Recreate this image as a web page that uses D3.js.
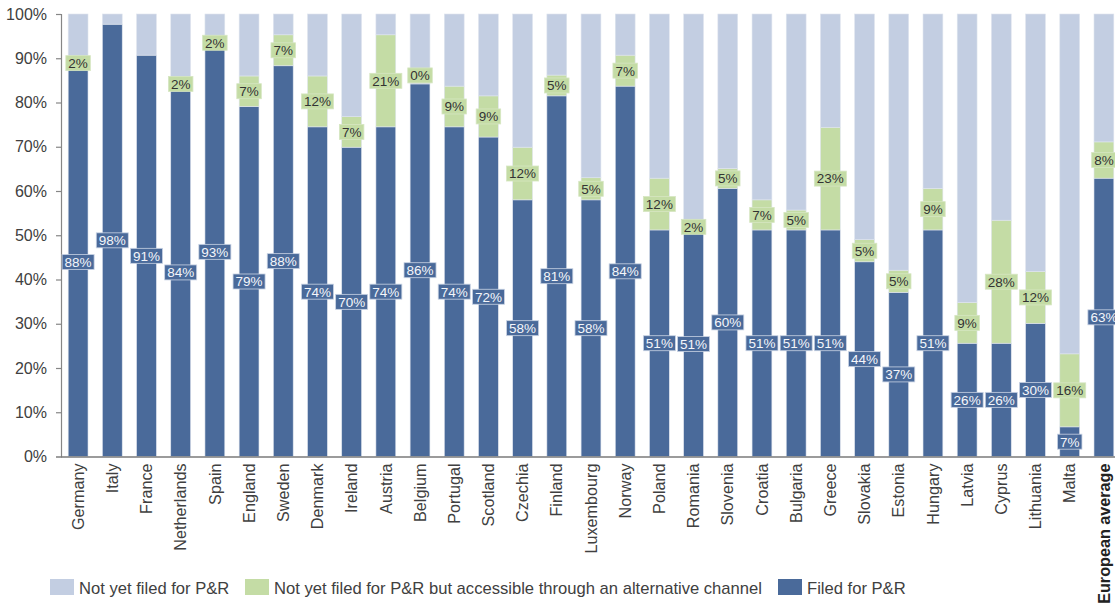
<!DOCTYPE html>
<html>
<head>
<meta charset="utf-8">
<script src="https://cdn.jsdelivr.net/npm/d3@7/dist/d3.min.js"></script>
<style>
  html, body { margin: 0; padding: 0; background: #fff; overflow: hidden; }
  svg { display: block; font-family: "Liberation Sans", Arial, sans-serif; }
</style>
</head>
<body>
<svg id="chart" width="1115" height="605"></svg>
<script>
const categories = ["Germany","Italy","France","Netherlands","Spain","England","Sweden","Denmark","Ireland","Austria","Belgium","Portugal","Scotland","Czechia","Finland","Luxembourg","Norway","Poland","Romania","Slovenia","Croatia","Bulgaria","Greece","Slovakia","Estonia","Hungary","Latvia","Cyprus","Lithuania","Malta","European average"];
// Filed for P&R (bar heights, %)
const filed = [87.9,97.7,90.7,83.2,92.5,79.1,88.3,74.5,69.9,74.5,84.2,74.5,72.2,58.0,81.5,58.0,83.7,51.2,50.8,60.6,51.2,51.2,51.2,44.0,37.1,51.2,25.6,25.6,30.1,6.7,62.9];
// Not yet filed but accessible through an alternative channel (%)
const alternative = [2,0,0,2,2,6.9,7,11.5,6.9,20.8,0,9.2,9.3,11.9,4.7,5,7,11.7,2.2,4.5,6.8,4.5,23.2,5,5,9.4,9.2,27.8,11.7,16.5,8.2];
// Data label texts
const filedLabels = [88,98,91,84,93,79,88,74,70,74,86,74,72,58,81,58,84,51,51,60,51,51,51,44,37,51,26,26,30,7,63];
const altLabels = [2,null,null,2,2,7,7,12,7,21,0,9,9,12,5,5,7,12,2,5,7,5,23,5,5,9,9,28,12,16,8];
const yTicks = [0,10,20,30,40,50,60,70,80,90,100];
const seriesNames = ["Not yet filed for P&R","Not yet filed for P&R but accessible through an alternative channel","Filed for P&R"];
const colors = { notyet: "#C3CEE2", alt: "#C4DCA5", filed: "#4A6A9A" };

const svg = d3.select("#chart");
const mLeft = 61, mRight = 1121, mTop = 14, mBottom = 456.5;

const data = categories.map((c, i) => ({
  cat: c,
  filed: filed[i],
  alt: alternative[i],
  notyet: 100 - filed[i] - alternative[i],
  fl: filedLabels[i],
  al: altLabels[i]
}));

const x = d3.scaleBand().domain(categories).range([mLeft, mRight]).paddingInner(0.42).paddingOuter(0.21);
const y = d3.scaleLinear().domain([0, 100]).range([mBottom, mTop]);

const stack = d3.stack().keys(["filed", "alt", "notyet"]);
const stacked = stack(data);

const g = svg.append("g");
g.selectAll("g.series").data(stacked).join("g")
  .attr("class", "series")
  .attr("fill", d => colors[d.key])
  .selectAll("rect").data(d => d).join("rect")
  .attr("x", d => x(d.data.cat))
  .attr("width", x.bandwidth())
  .attr("y", d => y(d[1]))
  .attr("height", d => Math.max(0, y(d[0]) - y(d[1])))
  .attr("stroke", "#dfe5ee")
  .attr("stroke-width", 0.6);

// Y axis
const yAxis = d3.axisLeft(y).tickValues(yTicks).tickFormat(d => d + "%").tickSize(5).tickPadding(9);
const ya = svg.append("g").attr("transform", `translate(${mLeft},0)`).call(yAxis);
ya.select(".domain").attr("stroke", "#868686").attr("stroke-width", 1.2);
ya.selectAll(".tick line").attr("stroke", "#868686").attr("stroke-width", 1.2);
ya.selectAll(".tick text").attr("fill", "#404040").attr("font-size", 16).attr("font-family", "Liberation Sans, Arial, sans-serif");

// X axis
const xAxis = d3.axisBottom(x).tickSize(0).tickPadding(7);
const xa = svg.append("g").attr("transform", `translate(0,${mBottom})`).call(xAxis);
xa.select(".domain").attr("stroke", "#7a7a7a").attr("stroke-width", 1.4).attr("d", `M${mLeft},0.5H1115`);
xa.selectAll(".tick text")
  .attr("font-size", 16.2)
  .attr("font-family", "Liberation Sans, Arial, sans-serif")
  .attr("text-anchor", "end")
  .attr("dy", "0.35em")
  .attr("transform", "translate(0,7) rotate(-90)")
  .attr("x", 0).attr("y", 0)
  .attr("font-weight", d => d === "European average" ? "bold" : "normal")
  .attr("fill", d => d === "European average" ? "#222" : "#404040");

// Data labels
function addLabel(parent, cx, cy, text, fill, stroke, textColor) {
  const lg = parent.append("g");
  const t = lg.append("text")
    .attr("x", cx).attr("y", cy)
    .attr("text-anchor", "middle")
    .attr("dy", "0.36em")
    .attr("font-size", 13.5)
    .attr("fill", textColor)
    .text(text);
  const bb = t.node().getBBox();
  lg.insert("rect", "text")
    .attr("x", cx - bb.width / 2 - 2.5)
    .attr("y", cy - 7.5)
    .attr("width", bb.width + 5)
    .attr("height", 15)
    .attr("fill", fill)
    .attr("stroke", stroke)
    .attr("stroke-width", 0.8);
}
const labels = svg.append("g");
data.forEach(d => {
  const cx = x(d.cat) + x.bandwidth() / 2;
  addLabel(labels, cx, y(d.filed / 2), d.fl + "%", colors.filed, "#c9d3e4", "#f4f6fa");
  if (d.al !== null) {
    let cy = d.alt > 0 ? y(d.filed + d.alt / 2) : y(d.filed) - 8.5;
    addLabel(labels, cx, cy, d.al + "%", colors.alt, "#d6e6c2", "#333");
  }
});

// Legend
const legendItems = [
  { name: seriesNames[0], color: colors.notyet, x: 50 },
  { name: seriesNames[1], color: colors.alt, x: 245 },
  { name: seriesNames[2], color: colors.filed, x: 778 }
];
const lgd = svg.append("g");
legendItems.forEach(it => {
  lgd.append("rect").attr("x", it.x).attr("y", 579).attr("width", 24).attr("height", 16).attr("fill", it.color);
  lgd.append("text").attr("x", it.x + 29).attr("y", 594).attr("font-size", 16.6).attr("fill", "#404040").text(it.name);
});
</script>
</body>
</html>
